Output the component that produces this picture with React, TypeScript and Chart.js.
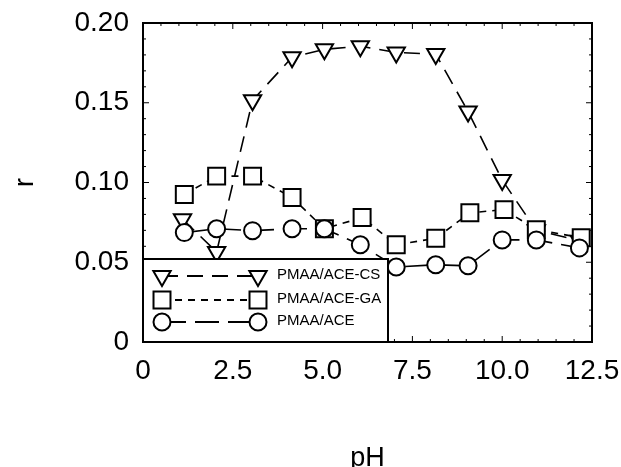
import React, { useEffect, useRef } from "react";
import { Chart, registerables } from "chart.js";
Chart.register(...registerables);

const seriesNames = ["PMAA/ACE-CS", "PMAA/ACE-GA", "PMAA/ACE"];
const phCS = [1.1, 2.05, 3.05, 4.15, 5.05, 6.05, 7.05, 8.15, 9.05, 10.0, 10.95, 12.15];
const rCS = [0.077, 0.0565, 0.1515, 0.1785, 0.1835, 0.1855, 0.1815, 0.1805, 0.1445, 0.1015, 0.07, 0.0635];
const phGA = [1.15, 2.05, 3.05, 4.15, 5.05, 6.1, 7.05, 8.15, 9.1, 10.05, 10.95, 12.2];
const rGA = [0.0925, 0.104, 0.104, 0.0906, 0.071, 0.078, 0.061, 0.065, 0.081, 0.083, 0.0704, 0.0654];
const phACE = [1.15, 2.05, 3.05, 4.15, 5.05, 6.05, 7.05, 8.15, 9.05, 10.0, 10.95, 12.15];
const rACE = [0.0686, 0.071, 0.0698, 0.071, 0.071, 0.061, 0.047, 0.0484, 0.0478, 0.064, 0.064, 0.059];
const xTickLabels = ["0", "2.5", "5.0", "7.5", "10.0", "12.5"];
const yTickLabels = ["0", "0.05", "0.10", "0.15", "0.20"];
const xTitle = "pH";
const yTitle = "r";

const FONT = "'Liberation Sans', Arial, sans-serif";
const dashes = [[16, 9], [7, 6], [24, 9]];
const styles = ["triangle", "rect", "circle"];
const radii = [10, 12, 8.5];

function drawMarker(ctx: CanvasRenderingContext2D, kind: string, x: number, y: number, r: number) {
  ctx.beginPath();
  if (kind === "triangle") {
    const s = r * Math.sqrt(3);
    ctx.moveTo(x - s / 2, y - r / 2);
    ctx.lineTo(x + s / 2, y - r / 2);
    ctx.lineTo(x, y + r);
    ctx.closePath();
  } else if (kind === "rect") {
    const s = r * Math.SQRT1_2;
    ctx.rect(x - s, y - s, 2 * s, 2 * s);
  } else {
    ctx.arc(x, y, r, 0, Math.PI * 2);
  }
  ctx.fillStyle = "#fff";
  ctx.fill();
  ctx.setLineDash([]);
  ctx.lineWidth = 2;
  ctx.strokeStyle = "#000";
  ctx.stroke();
}

const decorPlugin = {
  id: "decor",
  afterDraw(chart: any) {
    const { ctx, chartArea: a, scales } = chart;
    const xs = scales.x;
    const ys = scales.y;
    ctx.save();
    ctx.strokeStyle = "#000";
    ctx.lineWidth = 1;
    const line = (x1: number, y1: number, x2: number, y2: number) => {
      ctx.beginPath();
      ctx.moveTo(x1, y1);
      ctx.lineTo(x2, y2);
      ctx.stroke();
    };
    for (let i = 0; i <= 25; i++) {
      const v = i * 0.5;
      const px = xs.getPixelForValue(v);
      const L = i % 5 === 0 ? 6 : 3;
      line(px, a.bottom, px, a.bottom - L);
      line(px, a.top, px, a.top + L);
    }
    for (let i = 0; i <= 20; i++) {
      const v = i * 0.01;
      const py = ys.getPixelForValue(v);
      const L = i % 5 === 0 ? 6 : 3;
      line(a.left, py, a.left + L, py);
      line(a.right, py, a.right - L, py);
    }

    // legend box
    const bx = a.left, by = 259, bw = 388 - a.left, bh = a.bottom - 259;
    ctx.fillStyle = "#fff";
    ctx.fillRect(bx, by, bw, bh);
    ctx.lineWidth = 2;
    ctx.strokeRect(bx, by, bw, bh);
    const rows = [276, 300, 322];
    const x1 = 162, x2 = 258;
    seriesNames.forEach((name, i) => {
      const yy = rows[i];
      ctx.setLineDash(dashes[i]);
      ctx.lineWidth = 2;
      line(x1, yy, x2, yy);
      ctx.setLineDash([]);
      drawMarker(ctx, styles[i], x1, yy, radii[i]);
      drawMarker(ctx, styles[i], x2, yy, radii[i]);
      ctx.fillStyle = "#000";
      ctx.font = `15px ${FONT}`;
      ctx.textAlign = "left";
      ctx.textBaseline = "middle";
      ctx.fillText(name, 277, yy - 1);
    });

    // frame
    ctx.setLineDash([]);
    ctx.lineWidth = 2;
    ctx.strokeRect(a.left, a.top, a.width, a.height);

    // titles
    ctx.fillStyle = "#000";
    ctx.font = `27px ${FONT}`;
    ctx.textAlign = "center";
    ctx.textBaseline = "alphabetic";
    ctx.fillText(xTitle, (a.left + a.right) / 2, 466);
    ctx.save();
    ctx.translate(33, (a.top + a.bottom) / 2);
    ctx.rotate(-Math.PI / 2);
    ctx.fillText(yTitle, 0, 0);
    ctx.restore();
    ctx.restore();
  },
};

export default function App() {
  const ref = useRef<HTMLCanvasElement | null>(null);
  useEffect(() => {
    document.body.style.margin = "0";
    const canvas = ref.current!;
    const mk = (i: number, xs: number[], ys: number[]) => ({
      label: seriesNames[i],
      data: xs.map((x, k) => ({ x, y: ys[k] })),
      borderColor: "#000",
      borderWidth: 1.6,
      borderDash: dashes[i],
      backgroundColor: "#000",
      pointStyle: styles[i],
      pointRotation: i === 0 ? 180 : 0,
      pointRadius: radii[i],
      pointBackgroundColor: "#fff",
      pointBorderColor: "#000",
      pointBorderWidth: 2,
      showLine: true,
      fill: false,
      tension: 0,
    });
    const chart = new Chart(canvas, {
      type: "scatter",
      data: {
        datasets: [mk(2, phACE, rACE), mk(1, phGA, rGA), mk(0, phCS, rCS)],
      },
      options: {
        responsive: false,
        animation: false,
        layout: { padding: { top: 23, right: 29, left: 0, bottom: 0 } },
        plugins: { legend: { display: false }, tooltip: { enabled: false } },
        scales: {
          x: {
            type: "linear",
            min: 0,
            max: 12.5,
            afterBuildTicks: (s: any) => {
              s.ticks = xTickLabels.map((_, i) => ({ value: i * 2.5 }));
            },
            ticks: {
              callback: (_v: any, i: number) => xTickLabels[i],
              font: { size: 28, family: FONT },
              color: "#000",
              padding: 12,
              maxRotation: 0,
              autoSkip: false,
            },
            grid: { display: false, drawTicks: false },
            border: { display: false },
            afterFit: (s: any) => {
              s.height = 125;
              s.paddingLeft = 0;
              s.paddingRight = 0;
            },
          },
          y: {
            type: "linear",
            min: 0,
            max: 0.2,
            afterBuildTicks: (s: any) => {
              s.ticks = yTickLabels.map((_, i) => ({ value: i * 0.05 }));
            },
            ticks: {
              callback: (_v: any, i: number) => yTickLabels[i],
              font: { size: 28, family: FONT },
              color: "#000",
              padding: 14,
              autoSkip: false,
            },
            grid: { display: false, drawTicks: false },
            border: { display: false },
            afterFit: (s: any) => {
              s.width = 143;
              s.paddingTop = 0;
              s.paddingBottom = 0;
            },
          },
        },
      } as any,
      plugins: [decorPlugin],
    });
    return () => chart.destroy();
  }, []);
  return (
    <div style={{ width: 621, height: 467 }}>
      <canvas ref={ref} width={621} height={467} />
    </div>
  );
}
